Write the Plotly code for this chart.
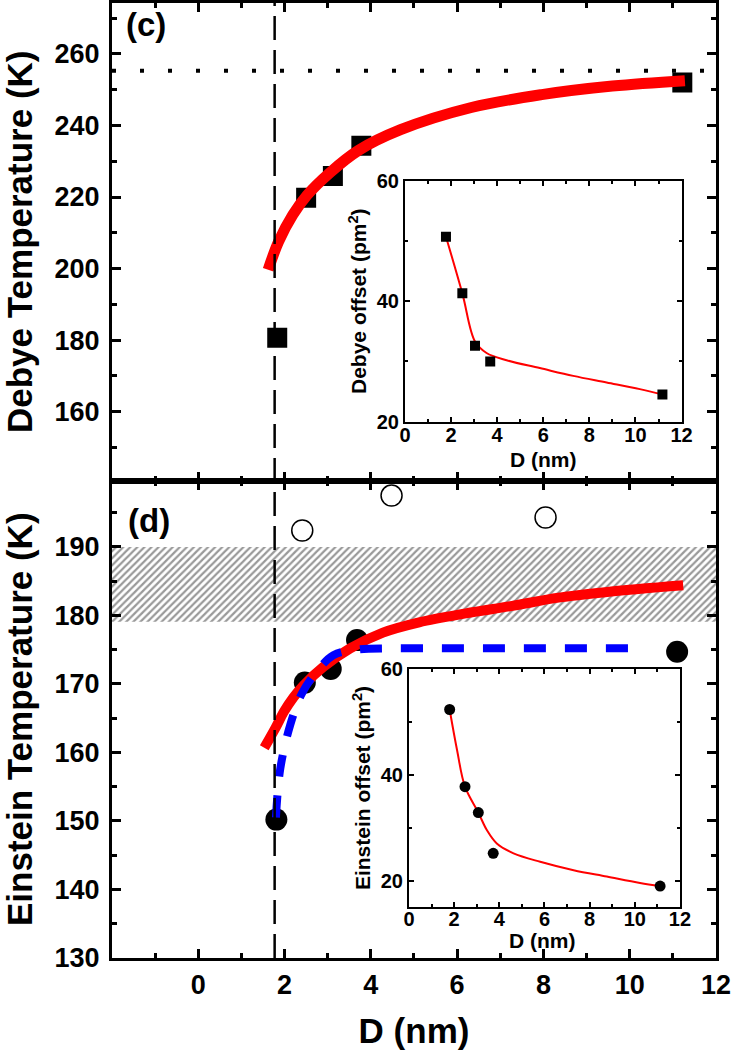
import plotly.graph_objects as go

# ---------------- data ----------------
# panel (c): Debye temperature
deb_D = [1.83, 2.50, 3.12, 3.78, 11.22]
deb_T = [180.7, 219.8, 225.9, 234.3, 252.0]
deb_fit_D = [1.62, 1.86, 2.19, 2.52, 3.06, 3.71, 4.69, 6.33, 7.96, 9.60, 11.28]
deb_fit_T = [199.7, 207.5, 215.0, 220.5, 226.9, 233.0, 238.8, 245.0, 248.6, 251.0, 252.5]
debye_limit = 255.3

# panel (d): Einstein temperature
ein_D = [1.81, 2.47, 3.07, 3.68, 11.10]
ein_T = [150.2, 170.2, 172.2, 176.4, 174.7]
ein_open_D = [2.41, 4.48, 8.05]
ein_open_T = [192.4, 197.5, 194.3]
ein_fit_D = [1.53, 1.79, 1.98, 2.20, 2.44, 2.90, 3.52, 4.28, 5.12, 6.20, 7.28, 8.35, 9.43, 11.24]
ein_fit_T = [160.7, 163.6, 165.9, 168.0, 169.8, 172.5, 175.2, 177.5, 179.0, 180.3, 181.4, 182.6, 183.4, 184.4]
ein_blue_D = [1.80, 1.90, 2.13, 2.40, 2.76, 3.13, 3.67, 4.44, 6.0, 8.0, 10.30]
ein_blue_T = [150.5, 157.6, 164.0, 168.6, 171.9, 174.2, 175.0, 175.2, 175.2, 175.2, 175.2]
band_T = [179.1, 190.0]
D_critical = 1.77

# insets
deb_off_D = [1.78, 2.49, 3.04, 3.70, 11.17]
deb_off_v = [50.7, 41.3, 32.6, 30.0, 24.5]
deb_off_fit_D = [1.78, 2.49, 3.04, 3.54, 4.41, 5.85, 7.30, 8.75, 10.19, 11.17]
deb_off_fit_v = [50.7, 41.3, 33.3, 31.4, 30.2, 28.9, 27.6, 26.5, 25.4, 24.5]

ein_off_D = [1.80, 2.48, 3.07, 3.73, 11.12]
ein_off_v = [52.4, 37.8, 32.9, 25.2, 19.0]
ein_off_fit_D = [1.80, 2.13, 2.48, 3.07, 3.46, 3.90, 4.63, 5.81, 7.29, 8.76, 10.23, 11.12]
ein_off_fit_v = [52.4, 44.7, 37.8, 32.9, 29.5, 27.0, 25.2, 23.6, 22.0, 20.8, 19.6, 19.0]

x_range = [-2, 12.001]
x_tickvals = [0, 2, 4, 6, 8, 10, 12]
top_y_range = [140.8, 274.2]
bot_y_range = [130, 199.7]
inset_x_tickvals = [0, 2, 4, 6, 8, 10, 12]

FONT = "Liberation Sans, Arial, sans-serif"


def fnt(size):
    return dict(family=FONT, size=size, color="black", weight="bold")


fig = go.Figure()

# hatched band (bottom panel)
fig.add_trace(go.Scatter(
    x=[x_range[0], x_range[1], x_range[1], x_range[0], x_range[0]],
    y=[band_T[0], band_T[0], band_T[1], band_T[1], band_T[0]],
    fill="toself", mode="lines", line=dict(width=0),
    fillcolor="rgba(0,0,0,0)",
    fillpattern=dict(shape="/", fgcolor="#333333", bgcolor="white", size=5, solidity=0.45),
    xaxis="x2", yaxis="y2", showlegend=False, hoverinfo="skip"))

# panel (c)
fig.add_trace(go.Scatter(x=deb_D, y=deb_T, mode="markers",
                         marker=dict(symbol="square", size=20, color="black"),
                         xaxis="x", yaxis="y", showlegend=False))
fig.add_trace(go.Scatter(x=deb_fit_D, y=deb_fit_T, mode="lines",
                         line=dict(color="#ff0000", width=11, shape="spline", smoothing=1.0),
                         xaxis="x", yaxis="y", showlegend=False))

# panel (d)
fig.add_trace(go.Scatter(x=ein_open_D, y=ein_open_T, mode="markers",
                         marker=dict(symbol="circle-open", size=21, color="black", line=dict(width=1.5)),
                         xaxis="x2", yaxis="y2", showlegend=False))
fig.add_trace(go.Scatter(x=ein_D, y=ein_T, mode="markers",
                         marker=dict(symbol="circle", size=22, color="black"),
                         xaxis="x2", yaxis="y2", showlegend=False))
fig.add_trace(go.Scatter(x=ein_fit_D, y=ein_fit_T, mode="lines",
                         line=dict(color="#ff0000", width=10, shape="spline"),
                         xaxis="x2", yaxis="y2", showlegend=False))
fig.add_trace(go.Scatter(x=ein_blue_D, y=ein_blue_T, mode="lines",
                         line=dict(color="#0000ff", width=8, dash="22px,19px", shape="spline"),
                         xaxis="x2", yaxis="y2", showlegend=False))

# inset Debye
fig.add_trace(go.Scatter(x=deb_off_fit_D, y=deb_off_fit_v, mode="lines",
                         line=dict(color="#ff0000", width=2, shape="spline"),
                         xaxis="x3", yaxis="y3", showlegend=False))
fig.add_trace(go.Scatter(x=deb_off_D, y=deb_off_v, mode="markers",
                         marker=dict(symbol="square", size=10, color="black"),
                         xaxis="x3", yaxis="y3", showlegend=False))
# inset Einstein
fig.add_trace(go.Scatter(x=ein_off_fit_D, y=ein_off_fit_v, mode="lines",
                         line=dict(color="#ff0000", width=2, shape="spline"),
                         xaxis="x4", yaxis="y4", showlegend=False))
fig.add_trace(go.Scatter(x=ein_off_D, y=ein_off_v, mode="markers",
                         marker=dict(symbol="circle", size=11, color="black"),
                         xaxis="x4", yaxis="y4", showlegend=False))

main_ax = dict(showline=True, linewidth=3, linecolor="black", mirror="allticks",
               ticks="inside", ticklen=9, tickwidth=2.5, tickcolor="black",
               showgrid=False, zeroline=False, tickfont=fnt(27), automargin=False)
inset_ax = dict(showline=True, linewidth=2, linecolor="black", mirror="allticks",
                ticks="inside", ticklen=5, tickwidth=1.5, tickcolor="black",
                showgrid=False, zeroline=False, tickfont=fnt(20), automargin=False)
minor_x = dict(ticks="inside", ticklen=5, tickwidth=2.5, tickcolor="black", tickvals=[-1, 1, 3, 5, 7, 9, 11])

fig.update_layout(
    width=731, height=1050,
    margin=dict(l=112, r=15, t=3, b=92),
    paper_bgcolor="white", plot_bgcolor="white",
    xaxis=dict(main_ax, domain=[0, 1], range=x_range, anchor="y",
               tickmode="array", tickvals=x_tickvals, showticklabels=False,
               minor=minor_x),
    yaxis=dict(main_ax, domain=[0.5, 1], range=top_y_range, anchor="x", dtick=20, tick0=160,
               ticklabelstandoff=4,
               minor=dict(ticks="inside", ticklen=5, tickwidth=2.5, tickcolor="black", dtick=10),
               title=dict(text="Debye Temperature (K)", font=fnt(35), standoff=14)),
    xaxis2=dict(main_ax, domain=[0, 1], range=x_range, anchor="y2",
                tickmode="array", tickvals=x_tickvals, ticklabelstandoff=1,
                minor=minor_x,
                title=dict(text="D (nm)", font=fnt(35), standoff=28)),
    yaxis2=dict(main_ax, domain=[0, 0.5], range=bot_y_range, anchor="x2", dtick=10, tick0=130,
                ticklabelstandoff=4,
                minor=dict(ticks="inside", ticklen=5, tickwidth=2.5, tickcolor="black", dtick=5),
                title=dict(text="Einstein Temperature (K)", font=fnt(35), standoff=14)),
    xaxis3=dict(inset_ax, domain=[0.485, 0.943], range=[0, 12.001], anchor="y3",
                tickmode="array", tickvals=inset_x_tickvals, ticklabelstandoff=-6,
                minor=dict(ticks="inside", ticklen=3, tickwidth=1.5, tickcolor="black", dtick=1)),
    yaxis3=dict(inset_ax, domain=[0.5616, 0.8139], range=[20, 60], anchor="x3", dtick=20,
                minor=dict(ticks="inside", ticklen=3, tickwidth=1.5, tickcolor="black", dtick=10),
                title=dict(text="Debye offset (pm<sup>2</sup>)", font=fnt(21), standoff=4)),
    xaxis4=dict(inset_ax, domain=[0.4917, 0.9404], range=[0, 12.001], anchor="y4",
                tickmode="array", tickvals=inset_x_tickvals, ticklabelstandoff=-7,
                minor=dict(ticks="inside", ticklen=3, tickwidth=1.5, tickcolor="black", dtick=1)),
    yaxis4=dict(inset_ax, domain=[0.0537, 0.3023], range=[15.1, 60], anchor="x4", dtick=20, tick0=20,
                minor=dict(ticks="inside", ticklen=3, tickwidth=1.5, tickcolor="black", dtick=10),
                title=dict(text="Einstein offset (pm<sup>2</sup>)", font=fnt(21), standoff=4)),
    shapes=[
        dict(type="line", xref="x", yref="paper", x0=D_critical, x1=D_critical, y0=0, y1=1,
             line=dict(color="black", width=2.5, dash="24px,10px"), layer="above"),
        dict(type="line", xref="x domain", yref="y", x0=0, x1=1, y0=debye_limit, y1=debye_limit,
             line=dict(color="black", width=4, dash="4px,24px"), layer="above"),
    ],
    annotations=[
        dict(text="(c)", xref="paper", yref="paper", x=0.056, y=0.977, showarrow=False,
             font=fnt(33), xanchor="center", yanchor="middle"),
        dict(text="(d)", xref="paper", yref="paper", x=0.061, y=0.4586, showarrow=False,
             font=fnt(33), xanchor="center", yanchor="middle"),
        dict(text="D (nm)", xref="paper", yref="paper", x=0.7136, y=0.5215, showarrow=False,
             font=fnt(21), xanchor="center", yanchor="middle"),
        dict(text="D (nm)", xref="paper", yref="paper", x=0.713, y=0.0188, showarrow=False,
             font=fnt(21), xanchor="center", yanchor="middle"),
    ],
)

fig.write_html("out.html", config={"displayModeBar": False},
               post_script="document.body.style.margin='0';")
